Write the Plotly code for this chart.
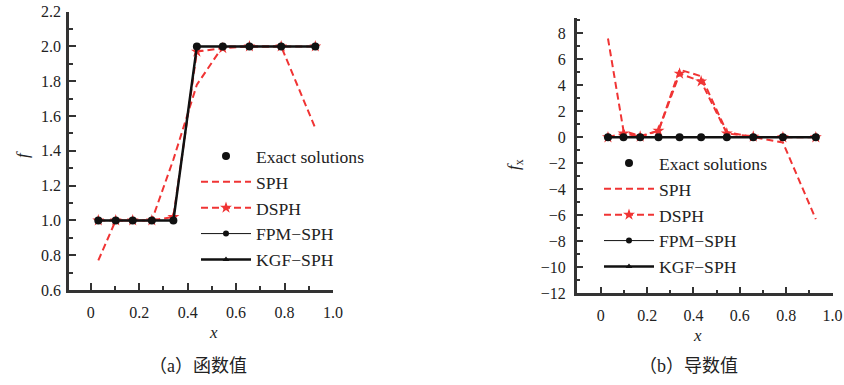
import plotly.graph_objects as go

# ---------------- data ----------------
x_nodes_a = [0.031, 0.103, 0.173, 0.252, 0.341, 0.438, 0.545, 0.655, 0.786, 0.927]
exact_a = [1, 1, 1, 1, 1, 2, 2, 2, 2, 2]
sph_a = [0.77, 1.0, 1.0, 1.0, 1.35, 1.78, 2.0, 2.0, 2.0, 1.53]
dsph_a = [1.0, 1.0, 1.0, 1.0, 1.02, 1.97, 1.99, 2.0, 2.0, 2.0]
fpm_a = [1, 1, 1, 1, 1, 2, 2, 2, 2, 2]
kgf_a = [1, 1, 1, 1, 1, 2, 2, 2, 2, 2]

x_nodes_b = [0.031, 0.098, 0.170, 0.249, 0.340, 0.433, 0.544, 0.658, 0.786, 0.928]
exact_b = [0, 0, 0, 0, 0, 0, 0, 0, 0, 0]
sph_b = [7.6, 0.5, 0.1, 0.5, 5.2, 4.7, 0.4, 0.05, -0.4, -6.3]
dsph_b = [0.0, 0.3, 0.05, 0.5, 4.9, 4.3, 0.3, 0.05, 0.0, 0.0]
fpm_b = [0, 0, 0, 0, 0, 0, 0, 0, 0, 0]
kgf_b = [0, 0, 0, 0, 0, 0, 0, 0, 0, 0]

series_names = ["Exact solutions", "SPH", "DSPH", "FPM\u2212SPH", "KGF\u2212SPH"]
x_tickvals = [0, 0.2, 0.4, 0.6, 0.8, 1.0]
x_ticktext = ["0", "0.2", "0.4", "0.6", "0.8", "1.0"]
y_ticks_a = [0.6, 0.8, 1.0, 1.2, 1.4, 1.6, 1.8, 2.0, 2.2]
y_ticks_b = [-12, -10, -8, -6, -4, -2, 0, 2, 4, 6, 8]
captions = ["\uff08a\uff09函数值", "\uff08b\uff09导数值"]

# ---------------- styling ----------------
W, H = 844, 385
RED = "#f03434"
BLACK = "#111111"
AX = "#333333"
SERIF = "Liberation Serif"
CJK = "Liberation Serif, Noto Sans CJK SC"

fig = go.Figure()


def add_panel(xn, exact, sph, dsph, fpm, kgf, xa, ya, leg):
    fig.add_trace(go.Scatter(x=xn, y=sph, mode="lines", name=series_names[1],
                             line=dict(color=RED, width=2, dash="7px,4px"),
                             xaxis=xa, yaxis=ya, legend=leg, legendrank=2))
    fig.add_trace(go.Scatter(x=xn, y=dsph, mode="lines+markers", name=series_names[2],
                             line=dict(color=RED, width=2, dash="7px,4px"),
                             marker=dict(symbol="star", size=9, color=RED),
                             xaxis=xa, yaxis=ya, legend=leg, legendrank=3))
    fig.add_trace(go.Scatter(x=xn, y=fpm, mode="lines+markers", name=series_names[3],
                             line=dict(color=BLACK, width=1),
                             marker=dict(symbol="circle", size=6, color=BLACK),
                             xaxis=xa, yaxis=ya, legend=leg, legendrank=4))
    fig.add_trace(go.Scatter(x=xn, y=kgf, mode="lines+markers", name=series_names[4],
                             line=dict(color=BLACK, width=2.5),
                             marker=dict(symbol="triangle-up", size=6, color=BLACK),
                             xaxis=xa, yaxis=ya, legend=leg, legendrank=5))
    fig.add_trace(go.Scatter(x=xn, y=exact, mode="markers", name=series_names[0],
                             marker=dict(symbol="circle", size=8, color=BLACK),
                             xaxis=xa, yaxis=ya, legend=leg, legendrank=1))


add_panel(x_nodes_a, exact_a, sph_a, dsph_a, fpm_a, kgf_a, "x", "y", "legend")
add_panel(x_nodes_b, exact_b, sph_b, dsph_b, fpm_b, kgf_b, "x2", "y2", "legend2")

common_axis = dict(showline=True, linewidth=2.5, linecolor=AX, showgrid=False,
                   zeroline=False, ticks="inside", ticklen=7, tickwidth=2,
                   tickcolor=AX, tickfont=dict(family=SERIF, size=16, color="#222"),
                   mirror=False, automargin=False, ticklabeloverflow="allow")

fig.update_layout(
    width=W, height=H, margin=dict(l=0, r=0, t=0, b=0, pad=0, autoexpand=False),
    paper_bgcolor="white", plot_bgcolor="white",
    xaxis=dict(domain=[69 / W, 333 / W], range=[-0.09, 1.0], anchor="y",
               tickvals=x_tickvals, ticktext=x_ticktext, ticklabelstandoff=6,
               minor=dict(ticks="inside", ticklen=4, tickwidth=1.5, tickcolor=AX, dtick=0.1, tick0=0),
               **common_axis),
    yaxis=dict(domain=[1 - 290 / H, 1 - 11.6 / H], range=[0.6, 2.2], anchor="x",
               tickvals=y_ticks_a, tickformat=".1f", ticklabelstandoff=2,
               minor=dict(ticks="inside", ticklen=4, tickwidth=1.5, tickcolor=AX, dtick=0.1, tick0=0.6),
               **common_axis),
    xaxis2=dict(domain=[576.7 / W, 832.5 / W], range=[-0.104, 1.0], anchor="y2",
                tickvals=x_tickvals, ticktext=x_ticktext, ticklabelstandoff=6,
                minor=dict(ticks="inside", ticklen=4, tickwidth=1.5, tickcolor=AX, dtick=0.1, tick0=0),
                **common_axis),
    yaxis2=dict(domain=[1 - 293.3 / H, 1 - 17.7 / H], range=[-12, 9.2], anchor="x2",
                tickvals=y_ticks_b, ticklabelstandoff=5,
                minor=dict(ticks="inside", ticklen=4, tickwidth=1.5, tickcolor=AX, dtick=1, tick0=0),
                **common_axis),
    legend=dict(x=196 / W, y=1 - 138 / H, xanchor="left", yanchor="top",
                bgcolor="rgba(0,0,0,0)", itemwidth=50,
                font=dict(family=SERIF, size=17.6, color="#222")),
    legend2=dict(x=599 / W, y=1 - 145 / H, xanchor="left", yanchor="top",
                 bgcolor="rgba(0,0,0,0)", itemwidth=50,
                 font=dict(family=SERIF, size=17.6, color="#222")),
    showlegend=True,
)

annotations = [
    dict(text="<i>f</i>", x=22 / W, y=1 - 155 / H, textangle=-90,
         font=dict(family=SERIF, size=17, color="#222")),
    dict(text="<i>x</i>", x=213 / W, y=1 - 332 / H,
         font=dict(family=SERIF, size=17, color="#222")),
    dict(text="<i>f</i><sub>x</sub>", x=515 / W, y=1 - 165 / H, textangle=-90,
         font=dict(family=SERIF, size=17, color="#222")),
    dict(text="<i>x</i>", x=697 / W, y=1 - 335 / H,
         font=dict(family=SERIF, size=17, color="#222")),
    dict(text=captions[0], x=198 / W, y=1 - 366 / H,
         font=dict(family=CJK, size=18, color="#222")),
    dict(text=captions[1], x=688 / W, y=1 - 366 / H,
         font=dict(family=CJK, size=18, color="#222")),
]
for a in annotations:
    a.update(xref="paper", yref="paper", showarrow=False, xanchor="center", yanchor="middle")
fig.update_layout(annotations=annotations)

fig.write_html("out.html", config={"displayModeBar": False},
               post_script="document.body.style.margin='0px';document.body.style.overflow='hidden';")
